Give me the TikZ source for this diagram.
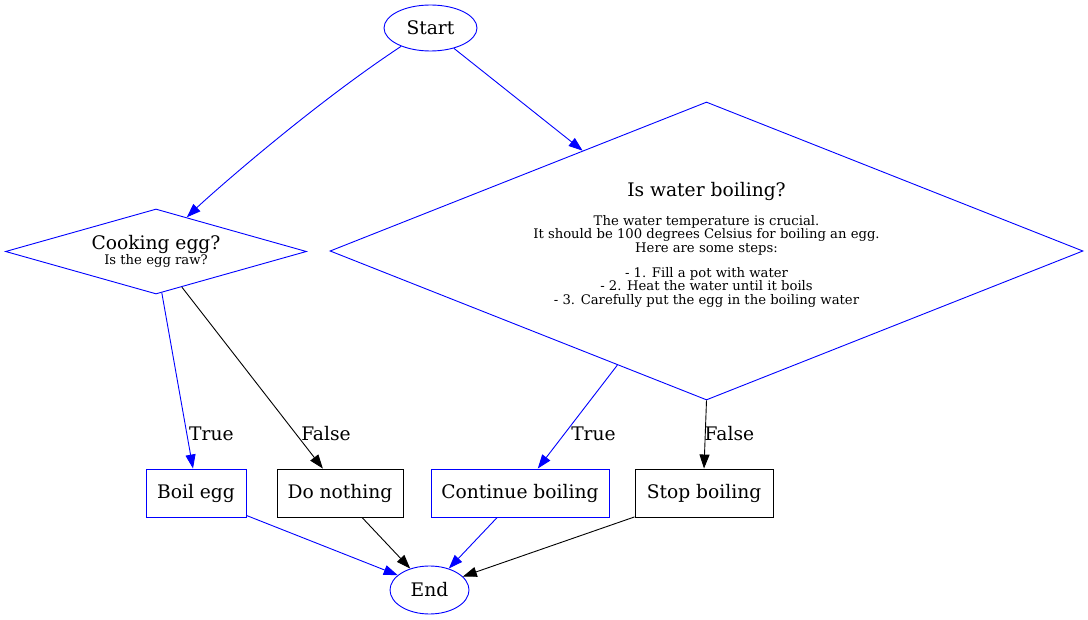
\documentclass[tikz,border=0pt]{standalone}
\usepackage{fontspec}
\setmainfont{DejaVu Serif}
\usetikzlibrary{shapes.geometric,arrows.meta}
\begin{document}
\begin{tikzpicture}[x=1pt,y=-1pt,
  base/.style={font=\fontsize{18.67}{22}\selectfont, inner sep=0pt, line width=0.9pt},
  bluebox/.style={base, draw=blue, rectangle, minimum height=48pt},
  blackbox/.style={base, draw=black, rectangle, minimum height=48pt},
  oval/.style={base, draw=blue, ellipse},
  decision/.style={base, font=\fontsize{18.67}{13.5}\selectfont, draw=blue, diamond, align=center},
  flow/.style={line width=0.9pt, -{Triangle[length=14pt,width=10pt]}},
  bflow/.style={flow, draw=blue},
  kflow/.style={flow, draw=black},
  lbl/.style={font=\fontsize{18.67}{22}\selectfont, inner sep=0pt, anchor=west, text=black},
]
\useasboundingbox[fill=white] (0,0) rectangle (1088,620);
\newcommand{\smallfnt}{\fontsize{13.2}{13.5}\selectfont}

\node[oval, minimum width=93pt, minimum height=46pt] (start) at (430.5,28) {Start};

\node[decision, shape aspect=3.54, minimum width=301pt, minimum height=85pt] (cook) at (156,251.5)
  {Cooking egg?\\{\smallfnt Is the egg raw?}};

\node[decision, shape aspect=2.53, minimum width=753pt, minimum height=298pt] (wb) at (706.5,251)
  {Is water boiling?\\[13.5pt]
   {\smallfnt The water temperature is crucial.}\\
   {\smallfnt It should be 100 degrees Celsius for boiling an egg.}\\
   {\smallfnt Here are some steps:}\\[11.5pt]
   {\smallfnt - 1. Fill a pot with water}\\
   {\smallfnt - 2. Heat the water until it boils}\\
   {\smallfnt - 3. Carefully put the egg in the boiling water}\\[1.5pt]};

\node[bluebox, minimum width=100pt] (boil) at (196,493) {Boil egg};
\node[blackbox, minimum width=126pt] (nothing) at (340,493) {Do nothing};
\node[bluebox, minimum width=178pt] (cont) at (520,493) {Continue boiling};
\node[blackbox, minimum width=138pt] (stop) at (704,493) {Stop boiling};
\node[oval, minimum width=79pt, minimum height=48pt] (end) at (429.5,590) {End};

\draw[bflow] (start.212) .. controls +(-91.9,60.6) and +(21.6,-20.7) .. (cook.48);
\draw[bflow] (start.319) -- (wb.141.4);

\draw[bflow] (cook.278) -- node[lbl, pos=0.801, xshift=2pt] {True} (boil.97);
\draw[kflow] (cook.306) -- node[lbl, pos=0.808, xshift=5pt] {False} (nothing.125.3);
\draw[bflow] (wb.232.6) -- node[lbl, pos=0.66, xshift=6pt] {True} (cont.54.2);
\draw[kflow] (wb.south) -- node[lbl, pos=0.493, xshift=-1pt] {False} (stop.north);

\draw[bflow] (boil.336.3) -- (end.155.2);
\draw[kflow] (nothing.312.5) -- (end.132.9);
\draw[bflow] (cont.227.5) -- (end.48.6);
\draw[kflow] (stop.199.7) -- (end.22.7);
\end{tikzpicture}
\end{document}
